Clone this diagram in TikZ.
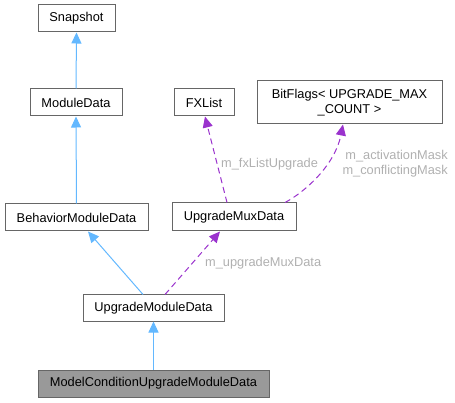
\documentclass[tikz,border=0pt]{standalone}
\usepackage{fontspec}
\setmainfont{Liberation Sans}
\usetikzlibrary{arrows.meta}
\definecolor{edgeblue}{HTML}{63B8FF}
\definecolor{edgepurple}{HTML}{9A32CD}
\definecolor{boxgray}{HTML}{666666}
\definecolor{labgray}{HTML}{B0B0B0}
\definecolor{hilite}{HTML}{999999}
\begin{document}
\begin{tikzpicture}[x=1pt,y=-1pt,
  cls/.style={draw=boxgray,line width=1pt,fill=white,inner sep=0pt,
    font=\fontsize{12.8}{15}\selectfont,text=black},
  inh/.style={draw=edgeblue,line width=1pt,-{Triangle[length=11pt,width=10pt]}},
  use/.style={draw=edgepurple,line width=1pt,dash pattern=on 6pt off 4pt,
    -{Triangle[length=11pt,width=10pt]}},
  lab/.style={text=labgray,font=\fontsize{12.8}{15}\selectfont,inner sep=0pt}]
\useasboundingbox (0,0) rectangle (455,403);
\node[cls,minimum width=77,minimum height=27] (snap) at (76.5,18.5) {Snapshot};
\node[cls,minimum width=92,minimum height=27] (mod) at (76,102.5) {ModuleData};
\node[cls,minimum width=143,minimum height=27] (beh) at (76.5,217.5) {BehaviorModuleData};
\node[cls,minimum width=60,minimum height=27] (fx) at (204,102.5) {FXList};
\node[cls,minimum width=185,minimum height=43,align=center] (bit) at (349.5,102.5) {BitFlags< UPGRADE\_MAX\\\_COUNT >};
\node[cls,minimum width=124,minimum height=28] (mux) at (234,217) {UpgradeMuxData};
\node[cls,minimum width=141,minimum height=26] (umd) at (153.5,308) {UpgradeModuleData};
\node[cls,fill=hilite,minimum width=231,minimum height=27] (mcu) at (153.5,383.5) {ModelConditionUpgradeModuleData};

\draw[inh] (mod.north) -- (snap.south);
\draw[inh] (beh.north) -- (mod.south);
\draw[inh] ([xshift=-10.5pt]umd.north) -- ([xshift=11.5pt]beh.south);
\draw[inh] (mcu.north) -- (umd.south);
\draw[use] ([xshift=11.5pt]umd.north) -- ([xshift=-14pt]mux.south);
\draw[use] ([xshift=-7pt]mux.north) -- ([xshift=1pt]fx.south);
\draw[use] ([xshift=51pt]mux.north) .. controls (305,192) and (335,165) .. ([xshift=-6.5pt]bit.south);

\node[lab,anchor=west] (l1) at (205,263) {m\_upgradeMuxData};
\node[lab,anchor=west] (l2) at (221,164) {m\_fxListUpgrade};
\node[lab,anchor=east,align=right] (l3) at (448,163.5) {m\_activationMask\\m\_conflictingMask};
\end{tikzpicture}
\end{document}
